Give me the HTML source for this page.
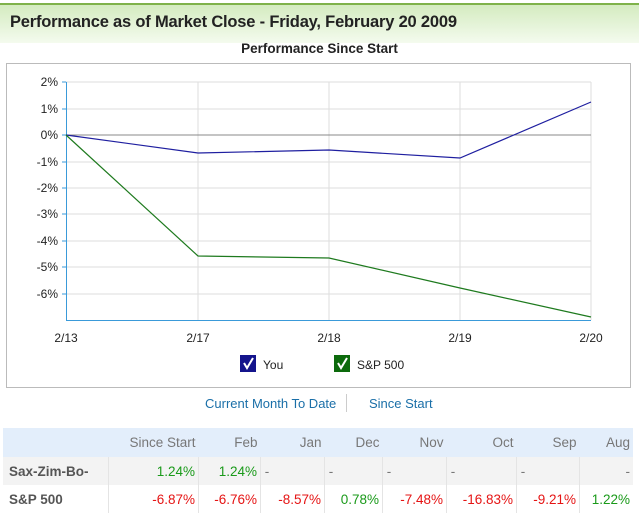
<!DOCTYPE html>
<html><head><style>
body{margin:0;width:639px;height:515px;background:#fff;font-family:"Liberation Sans",sans-serif;position:relative;overflow:hidden}
.hdr{position:absolute;left:0;top:3px;width:639px;height:38px;border-top:2px solid #7fb24a;background:linear-gradient(#d4ebc0,#f4fbee);}
.hdr span{position:absolute;left:10px;top:8px;font-size:16.5px;font-weight:bold;color:#222;letter-spacing:-0.2px}
.ct{position:absolute;top:41px;width:639px;text-align:center;font-size:13.5px;font-weight:bold;color:#222}
.box{position:absolute;left:6px;top:63px;width:623px;height:323px;border:1px solid #bbb}
.tabs{position:absolute;top:396px;font-size:13px;color:#1a6fa8}
table{position:absolute;left:3px;top:428px;width:630px;border-collapse:collapse;font-size:13.5px}
td{text-align:right;padding:0 3px 0 0;height:28px}
.h td{background:#e3eefb;color:#777;height:29px}
.r1 td{background:#f3f3f3}
td.n{text-align:left;font-weight:bold;color:#555;padding-left:6px}
.g{color:#1a9a1a}.rd{color:#e51414}.d{color:#777}
.r1 td+td,.r2 td+td{border-left:1px solid #e4e4e4}
</style></head><body>
<div class="hdr"><span>Performance as of Market Close - Friday, February 20 2009</span></div>
<div class="ct">Performance Since Start</div>
<div class="box"></div>
<svg style="position:absolute;left:0;top:0" width="639" height="400" font-family="Liberation Sans" font-size="12">
<g stroke="#ddd" stroke-width="1">
<line x1="66" y1="82" x2="591" y2="82"/><line x1="66" y1="109" x2="591" y2="109"/>
<line x1="66" y1="162" x2="591" y2="162"/><line x1="66" y1="188" x2="591" y2="188"/><line x1="66" y1="214" x2="591" y2="214"/><line x1="66" y1="241" x2="591" y2="241"/><line x1="66" y1="267" x2="591" y2="267"/><line x1="66" y1="294" x2="591" y2="294"/>
<line x1="198" y1="82" x2="198" y2="320"/><line x1="329" y1="82" x2="329" y2="320"/><line x1="460" y1="82" x2="460" y2="320"/><line x1="591" y1="82" x2="591" y2="320"/>
</g>
<line x1="66" y1="135" x2="591" y2="135" stroke="#888"/>
<line x1="66.5" y1="82" x2="66.5" y2="320" stroke="#3a9ad9"/>
<line x1="66" y1="320.5" x2="591" y2="320.5" stroke="#3a9ad9"/>
<g stroke="#3a9ad9"><line x1="62" y1="82" x2="66" y2="82"/><line x1="62" y1="109" x2="66" y2="109"/><line x1="62" y1="135" x2="66" y2="135"/><line x1="62" y1="162" x2="66" y2="162"/><line x1="62" y1="188" x2="66" y2="188"/><line x1="62" y1="214" x2="66" y2="214"/><line x1="62" y1="241" x2="66" y2="241"/><line x1="62" y1="267" x2="66" y2="267"/><line x1="62" y1="294" x2="66" y2="294"/></g>
<g text-anchor="end" fill="#222"><text x="58" y="86">2%</text><text x="58" y="113">1%</text><text x="58" y="139">0%</text><text x="58" y="166">-1%</text><text x="58" y="192">-2%</text><text x="58" y="218">-3%</text><text x="58" y="245">-4%</text><text x="58" y="271">-5%</text><text x="58" y="298">-6%</text></g>
<g text-anchor="middle" fill="#222"><text x="66" y="342">2/13</text><text x="198" y="342">2/17</text><text x="329" y="342">2/18</text><text x="460" y="342">2/19</text><text x="591" y="342">2/20</text></g>
<polyline fill="none" stroke="#1f1fa0" stroke-width="1.2" points="66,135 198,153 329,150 460,158 591,102"/>
<polyline fill="none" stroke="#1e7a1e" stroke-width="1.2" points="66,135 198,256 329,258 460,288 591,317"/>
<rect x="240" y="355" width="16" height="17" fill="#14148c"/><path d="M244 363 l3 5 l6 -10" stroke="#fff" stroke-width="2" fill="none"/>
<text x="263" y="369" fill="#222">You</text>
<rect x="334" y="355" width="16" height="17" fill="#0c6a0c"/><path d="M338 363 l3 5 l6 -10" stroke="#fff" stroke-width="2" fill="none"/>
<text x="357" y="369" fill="#222">S&amp;P 500</text>
</svg>
<div class="tabs" style="left:205px">Current Month To Date</div>
<div style="position:absolute;left:346px;top:394px;width:1px;height:18px;background:#ccc"></div>
<div class="tabs" style="left:369px">Since Start</div>
<table>
<tr class="h"><td></td><td>Since Start</td><td>Feb</td><td>Jan</td><td>Dec</td><td>Nov</td><td>Oct</td><td>Sep</td><td>Aug</td></tr>
<tr class="r1"><td class="n" style="width:96px">Sax-Zim-Bo-</td><td class="g" style="width:86px">1.24%</td><td class="g" style="width:58px">1.24%</td><td class="d" style="text-align:left;width:60px">&nbsp;-</td><td class="d" style="text-align:left;width:54px">&nbsp;-</td><td class="d" style="text-align:left;width:60px">&nbsp;-</td><td class="d" style="text-align:left;width:66px">&nbsp;-</td><td class="d" style="text-align:left;width:59px">&nbsp;-</td><td class="d">-</td></tr>
<tr class="r2"><td class="n">S&amp;P 500</td><td class="rd">-6.87%</td><td class="rd">-6.76%</td><td class="rd">-8.57%</td><td class="g">0.78%</td><td class="rd">-7.48%</td><td class="rd">-16.83%</td><td class="rd">-9.21%</td><td class="g">1.22%</td></tr>
</table>
</body></html>
